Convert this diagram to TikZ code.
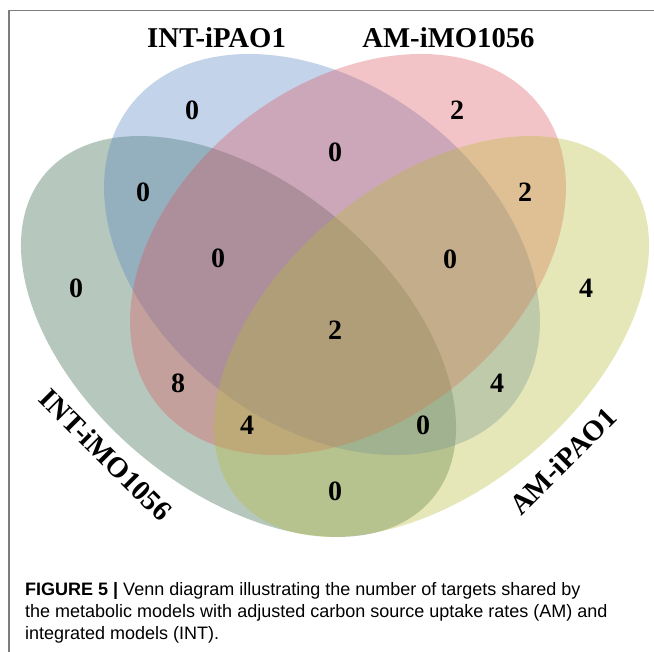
\documentclass[tikz,border=0pt]{standalone}
\usepackage{fontspec}
\setmainfont{Liberation Serif}
\newfontfamily\capfont{Liberation Sans}
\definecolor{setgreen}{RGB}{46,98,66}
\definecolor{setblue}{RGB}{84,129,192}
\definecolor{setred}{RGB}{221,86,95}
\definecolor{setyellow}{RGB}{184,186,55}
\definecolor{framegray}{RGB}{125,125,125}
\begin{document}
\begin{tikzpicture}[x=1pt,y=1pt]

\tikzstyle{blob} = [draw=none,fill opacity=0.35];
\tikzstyle{count} = [inner sep=0,font=\fontsize{28}{30}\selectfont\bfseries];
\tikzstyle{setname} = [inner sep=0,font=\fontsize{28.7}{31}\selectfont\bfseries];
\tikzstyle{caption} = [inner sep=0,anchor=base west,font=\capfont\fontsize{18}{22}\selectfont];

\useasboundingbox (0,0) rectangle (654,652);
\draw[framegray,line width=1.5pt] (9,0) -- (9,641.5) -- (654,641.5);

% the four sets
\fill[blob,setgreen,rotate around={-39.9:(238.5,315.5)}] (238.5,315.5) ellipse [x radius=252.7,y radius=153.7];
\fill[blob,setblue,rotate around={-38:(322,397.5)}] (322,397.5) ellipse [x radius=242.7,y radius=169.7];
\fill[blob,setred,rotate around={38:(348,397.5)}] (348,397.5) ellipse [x radius=242.7,y radius=169.7];
\fill[blob,setyellow,rotate around={39.9:(431.5,315.5)}] (431.5,315.5) ellipse [x radius=252.7,y radius=153.7];

\node[setname,anchor=base] (t1) at (216.5,604.5) {INT-iPAO1};
\node[setname,anchor=base] (t2) at (448.5,604.5) {AM-iMO1056};
\node[setname,rotate=-45] (t3) at (106,197) {INT-iMO1056};
\node[setname,rotate=45] (t4) at (563,191) {AM-iPAO1};

% counts
\node[count] (c1) at (192,542) {0};
\node[count] (c2) at (457,542) {2};
\node[count] (c3) at (335,500) {0};
\node[count] (c4) at (143,460) {0};
\node[count] (c5) at (525,460) {2};
\node[count] (c6) at (76,364) {0};
\node[count] (c7) at (586,364) {4};
\node[count] (c8) at (218,394) {0};
\node[count] (c9) at (450,393) {0};
\node[count] (c10) at (335,322) {2};
\node[count] (c11) at (178,269) {8};
\node[count] (c12) at (497,269) {4};
\node[count] (c13) at (247,227) {4};
\node[count] (c14) at (423,227) {0};
\node[count] (c15) at (335,161) {0};

\node[caption] (cap1) at (25,56) {{\bfseries FIGURE 5 |} Venn diagram illustrating the number of targets shared by};
\node[caption] (cap2) at (25,34) {the metabolic models with adjusted carbon source uptake rates (AM) and};
\node[caption] (cap3) at (25,12) {integrated models (INT).};
\end{tikzpicture}
\end{document}
